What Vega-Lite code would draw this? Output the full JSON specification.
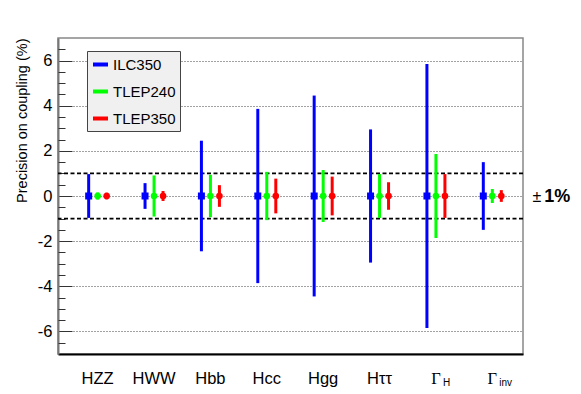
{
  "$schema": "https://vega.github.io/schema/vega-lite/v6.json",
  "width": 465,
  "height": 316,
  "autosize": "none",
  "padding": {"left": 58, "top": 38, "right": 58, "bottom": 40},
  "background": "white",
  "config": {
    "font": "Liberation Sans",
    "view": {"stroke": "#888", "strokeWidth": 1.5},
    "axis": {"labelColor": "black", "titleColor": "black"}
  },
  "datasets": {
    "err": [
      {"c": "HZZ", "m": "ILC350", "lo": -0.97, "hi": 0.97},
      {"c": "HWW", "m": "ILC350", "lo": -0.57, "hi": 0.57},
      {"c": "Hbb", "m": "ILC350", "lo": -2.45, "hi": 2.45},
      {"c": "Hcc", "m": "ILC350", "lo": -3.86, "hi": 3.86},
      {"c": "Hgg", "m": "ILC350", "lo": -4.45, "hi": 4.45},
      {"c": "Hττ", "m": "ILC350", "lo": -2.95, "hi": 2.95},
      {"c": "ΓH", "m": "ILC350", "lo": -5.85, "hi": 5.85},
      {"c": "Γinv", "m": "ILC350", "lo": -1.5, "hi": 1.5},
      {"c": "HZZ", "m": "TLEP240", "lo": -0.16, "hi": 0.16},
      {"c": "HWW", "m": "TLEP240", "lo": -0.91, "hi": 0.91},
      {"c": "Hbb", "m": "TLEP240", "lo": -0.94, "hi": 0.94},
      {"c": "Hcc", "m": "TLEP240", "lo": -1.07, "hi": 1.07},
      {"c": "Hgg", "m": "TLEP240", "lo": -1.15, "hi": 1.15},
      {"c": "Hττ", "m": "TLEP240", "lo": -0.97, "hi": 0.97},
      {"c": "ΓH", "m": "TLEP240", "lo": -1.86, "hi": 1.86},
      {"c": "Γinv", "m": "TLEP240", "lo": -0.31, "hi": 0.31},
      {"c": "HZZ", "m": "TLEP350", "lo": -0.15, "hi": 0.15},
      {"c": "HWW", "m": "TLEP350", "lo": -0.22, "hi": 0.22},
      {"c": "Hbb", "m": "TLEP350", "lo": -0.48, "hi": 0.48},
      {"c": "Hcc", "m": "TLEP350", "lo": -0.77, "hi": 0.77},
      {"c": "Hgg", "m": "TLEP350", "lo": -0.86, "hi": 0.86},
      {"c": "Hττ", "m": "TLEP350", "lo": -0.61, "hi": 0.61},
      {"c": "ΓH", "m": "TLEP350", "lo": -0.97, "hi": 0.97},
      {"c": "Γinv", "m": "TLEP350", "lo": -0.26, "hi": 0.26}
    ],
    "lines": [{"y": 1}, {"y": -1}]
  },
  "layer": [
    {
      "data": {"name": "lines"},
      "mark": {"type": "rule", "color": "black", "strokeWidth": 1.8, "strokeDash": [4, 2.5]},
      "encoding": {
        "y": {
          "field": "y", "type": "quantitative",
          "scale": {"domain": [-7, 7], "nice": false, "zero": false},
          "axis": {
            "orient": "left",
            "values": [-6, -4, -2, 0, 2, 4, 6],
            "labelExpr": "'' + datum.value",
            "tickSize": -14, "tickColor": "#333", "tickWidth": 1,
            "labelFontSize": 16.5, "labelPadding": 20,
            "grid": true, "gridDash": [1, 2], "gridColor": "#444", "gridWidth": 1,
            "domainColor": "#777", "domainWidth": 2,
            "title": "Precision on coupling (%)",
            "titleFontSize": 14.5, "titleFontWeight": "normal",
            "titleAnchor": "end", "titlePadding": 8
          }
        }
      }
    },
    {
      "data": {"name": "err"},
      "mark": {"type": "rule", "strokeWidth": 3},
      "encoding": {
        "x": {
          "field": "c", "type": "nominal",
          "sort": ["HZZ", "HWW", "Hbb", "Hcc", "Hgg", "Hττ", "ΓH", "Γinv"],
          "scale": {"type": "band", "paddingInner": 0, "paddingOuter": 0.124, "align": 0.82},
          "axis": {
            "orient": "bottom", "title": null, "ticks": false, "grid": false,
            "domainColor": "black", "domainWidth": 2,
            "labelAngle": 0, "labelFontSize": 16.5, "labelPadding": 16,
            "labelExpr": "indexof(datum.value, 'Γ') == 0 ? 'Γ' : datum.value",
            "labelFont": {"condition": {"test": "indexof(datum.value, 'Γ') == 0", "value": "Liberation Serif"}, "value": "Liberation Sans"}
          }
        },
        "xOffset": {
          "field": "m", "type": "nominal",
          "scale": {"type": "point", "domain": ["ILC350", "TLEP240", "TLEP350"], "range": [19.2, 37.2], "padding": 0}
        },
        "y": {
          "field": "lo", "type": "quantitative",
          "scale": {"domain": [-7, 7], "nice": false, "zero": false},
          "axis": {
            "orient": "left",
            "values": [-6.5, -5.5, -5, -4.5, -3.5, -3, -2.5, -1.5, -1, -0.5, 0.5, 1, 1.5, 2.5, 3, 3.5, 4.5, 5, 5.5, 6.5],
            "tickSize": -7, "tickColor": "#333", "tickWidth": 1,
            "labels": false, "grid": false, "domain": false, "title": null
          }
        },
        "y2": {"field": "hi"},
        "color": {
          "field": "m", "type": "nominal",
          "scale": {"domain": ["ILC350", "TLEP240", "TLEP350"], "range": ["#0000ff", "#00ff00", "#ff0000"]},
          "legend": {
            "title": null, "orient": "none", "legendX": 29, "legendY": 13,
            "symbolType": "stroke", "symbolStrokeWidth": 4, "symbolSize": 225,
            "labelFontSize": 15, "labelFont": "Liberation Sans", "labelColor": "black",
            "fillColor": "#f0f0f0", "strokeColor": "#444",
            "padding": 4, "rowPadding": 9, "labelOffset": 3
          }
        }
      }
    },
    {
      "data": {"name": "err"},
      "transform": [{"filter": "datum.m == 'ILC350'"}],
      "mark": {"type": "square", "color": "#0000ff", "opacity": 1, "size": 49},
      "encoding": {
        "x": {
          "field": "c", "type": "nominal",
          "sort": ["HZZ", "HWW", "Hbb", "Hcc", "Hgg", "Hττ", "ΓH", "Γinv"],
          "scale": {"type": "band", "paddingInner": 0, "paddingOuter": 0.124, "align": 0.82},
          "axis": {
            "orient": "bottom", "title": null, "ticks": false, "grid": false, "domain": false,
            "labelAngle": 0, "labelFontSize": 10, "labelPadding": 23,
            "labelAlign": "left", "labelOffset": 7,
            "labelExpr": "indexof(datum.value, 'Γ') == 0 ? substring(datum.value, 1) : ''"
          }
        },
        "xOffset": {
          "field": "m", "type": "nominal",
          "scale": {"type": "point", "domain": ["ILC350", "TLEP240", "TLEP350"], "range": [19.2, 37.2], "padding": 0}
        },
        "y": {
          "datum": 0, "type": "quantitative",
          "scale": {"domain": [-7, 7], "nice": false, "zero": false},
          "axis": {
            "orient": "right", "values": [0], "ticks": false, "domain": false, "grid": false,
            "labelExpr": "'±'", "labelFontSize": 16, "labelPadding": 9,
            "title": "1%", "titleFontSize": 18, "titleFontWeight": "bold",
            "titleAngle": 0, "titleAlign": "left", "titleBaseline": "middle", "titlePadding": 3
          }
        }
      }
    },
    {
      "data": {"name": "err"},
      "transform": [{"filter": "datum.m == 'TLEP240'"}],
      "mark": {"type": "circle", "color": "#00ff00", "opacity": 1, "size": 44},
      "encoding": {
        "x": {"field": "c", "type": "nominal", "sort": ["HZZ", "HWW", "Hbb", "Hcc", "Hgg", "Hττ", "ΓH", "Γinv"], "axis": null},
        "xOffset": {"field": "m", "type": "nominal"},
        "y": {"datum": 0, "type": "quantitative", "axis": null}
      }
    },
    {
      "data": {"name": "err"},
      "transform": [{"filter": "datum.m == 'TLEP350'"}],
      "mark": {"type": "circle", "color": "#ff0000", "opacity": 1, "size": 44},
      "encoding": {
        "x": {"field": "c", "type": "nominal", "sort": ["HZZ", "HWW", "Hbb", "Hcc", "Hgg", "Hττ", "ΓH", "Γinv"], "axis": null},
        "xOffset": {"field": "m", "type": "nominal"},
        "y": {"datum": 0, "type": "quantitative", "axis": null}
      }
    }
  ],
  "resolve": {"axis": {"x": "independent", "y": "independent"}}
}
